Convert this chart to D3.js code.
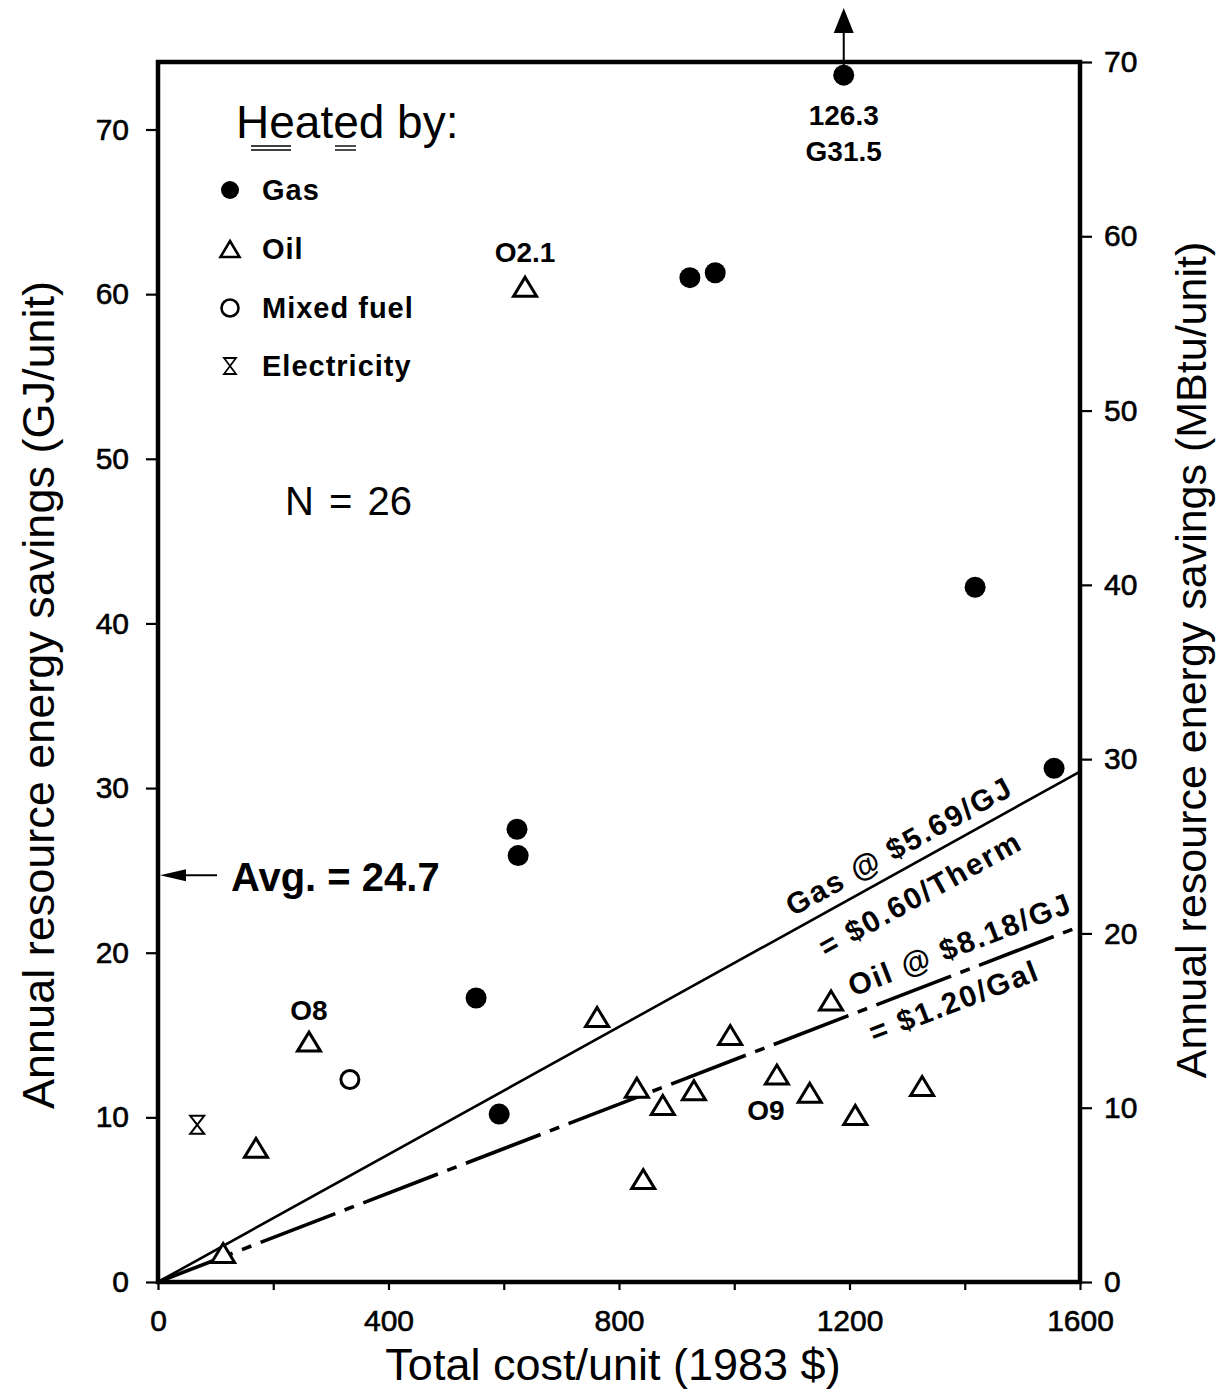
<!DOCTYPE html>
<html>
<head>
<meta charset="utf-8">
<script src="https://cdn.jsdelivr.net/npm/d3@7"></script>
<style>
  body { margin: 0; background: #fff; }
  svg { display: block; font-family: "Liberation Sans", Arial, Helvetica, sans-serif; }
</style>
</head>
<body>
<svg id="chart" width="1219" height="1392"></svg>
<script>
// cost in 1983 $ per unit, savings in GJ per unit
const gasCost = [1190, 923, 967, 1418, 1555, 623, 625, 552, 592];
const gasSavings = [73.3, 61.0, 61.3, 42.2, 31.2, 27.5, 25.9, 17.25, 10.2];
const oilCost = [637, 262, 170, 113, 762, 993, 1168, 831, 876, 930, 1074, 1131, 1210, 1326, 842];
const oilSavings = [60.45, 14.6, 8.15, 1.76, 16.1, 15.0, 17.1, 11.8, 10.75, 11.65, 12.6, 11.5, 10.15, 11.9, 6.25];
const mixedCost = [333];
const mixedSavings = [12.3];
const elecCost = [68];
const elecSavings = [9.55];

// the first gas point is off scale: true value and building id
const offScaleValue = "126.3";
const offScaleId = "G31.5";
const oilIds = { 0: "O2.1", 1: "O8", 10: "O9" };

// break-even lines through the origin, savings at $1600
const lineCost = [0, 1600];
const gasLineSavings = [0, 31.0];
const oilLineSavings = [0, 21.6];

const avgSavings = 24.7;
const nUnits = 26;

const xTicks = d3.range(0, 1601, 200);
const xTickLabels = [0, 400, 800, 1200, 1600];
const gjTicks = d3.range(0, 71, 10);
const mbtuTicks = d3.range(0, 71, 10);

const legendItems = ["Gas", "Oil", "Mixed fuel", "Electricity"];

const svg = d3.select("#chart");
svg.append("rect").attr("width", 1219).attr("height", 1392).attr("fill", "#fff");

const x = d3.scaleLinear().domain([0, 1600]).range([158, 1080]);
const y = d3.scaleLinear().domain([0, 74.1]).range([1282, 62]);
const yR = d3.scaleLinear().domain([0, 70]).range([1282, 62]);

const tri = "M0,-11L11.5,8L-11.5,8Z";
const hourglass = "M-7,-9H7L-7,9H7Z";

// axes
const styleAxis = g => {
  g.select(".domain").remove();
  g.selectAll("line").attr("stroke", "#000").attr("stroke-width", 2.2);
  g.selectAll("text").attr("fill", "#000").attr("font-size", 30)
    .attr("stroke", "#000").attr("stroke-width", 0.6)
    .attr("font-family", "Liberation Sans, Arial, sans-serif");
};

svg.append("g").attr("transform", `translate(${x(0)},0)`)
  .call(d3.axisLeft(y).tickValues(gjTicks).tickSize(12).tickPadding(17))
  .call(styleAxis);

svg.append("g").attr("transform", `translate(${x(1600)},0)`)
  .call(d3.axisRight(yR).tickValues(mbtuTicks).tickSize(12).tickPadding(12))
  .call(styleAxis);

svg.append("g").attr("transform", `translate(0,${y(0)})`)
  .call(d3.axisBottom(x).tickValues(xTicks).tickSize(8).tickPadding(20)
    .tickFormat(d => xTickLabels.includes(d) ? d : ""))
  .call(styleAxis);

// frame
svg.append("rect")
  .attr("x", x(0)).attr("y", y.range()[1])
  .attr("width", x(1600) - x(0)).attr("height", y(0) - y.range()[1])
  .attr("fill", "none").attr("stroke", "#000").attr("stroke-width", 4.5);

// axis titles
svg.append("text")
  .attr("x", (x(0) + x(1600)) / 2 - 6).attr("y", 1380)
  .attr("text-anchor", "middle").attr("font-size", 45)
  .text("Total cost/unit (1983 $)");

svg.append("text")
  .attr("transform", "translate(54,695) rotate(-90)")
  .attr("text-anchor", "middle").attr("font-size", 45)
  .text("Annual resource energy savings (GJ/unit)");

svg.append("text")
  .attr("transform", "translate(1206,660) rotate(-90)")
  .attr("text-anchor", "middle").attr("font-size", 43)
  .text("Annual resource energy savings (MBtu/unit)");

// break-even lines
const line = d3.line().x(d => x(d[0])).y(d => y(d[1]));
svg.append("path")
  .datum(d3.zip(lineCost, gasLineSavings))
  .attr("d", line).attr("fill", "none").attr("stroke", "#000").attr("stroke-width", 2.6);
svg.append("path")
  .datum(d3.zip(lineCost, oilLineSavings))
  .attr("d", line).attr("fill", "none").attr("stroke", "#000").attr("stroke-width", 3.6)
  .attr("stroke-dasharray", "80 10 10 10");

function lineLabel(ends, cost, txt, off) {
  const ang = Math.atan2(y(ends[1]) - y(0), x(1600) - x(0)) * 180 / Math.PI;
  const px = x(cost), py = y(ends[1] * cost / 1600);
  svg.append("text")
    .attr("transform", `translate(${px},${py}) rotate(${ang})`)
    .attr("y", off).attr("text-anchor", "middle")
    .attr("font-size", 30).attr("font-weight", "bold").attr("letter-spacing", 2)
    .text(txt);
}
lineLabel(gasLineSavings, 1305, "Gas @ $5.69/GJ", -12);
lineLabel(gasLineSavings, 1298, "= $0.60/Therm", 40);
lineLabel(oilLineSavings, 1408, "Oil @ $8.18/GJ", -16);
lineLabel(oilLineSavings, 1366, "= $1.20/Gal", 35);

// points
const gas = d3.zip(gasCost, gasSavings);
const oil = d3.zip(oilCost, oilSavings);
const mixed = d3.zip(mixedCost, mixedSavings);
const elec = d3.zip(elecCost, elecSavings);

svg.append("g").selectAll("path").data(oil).join("path")
  .attr("transform", d => `translate(${x(d[0])},${y(d[1]) + 1.5})`)
  .attr("d", tri).attr("fill", "#fff").attr("stroke", "#000").attr("stroke-width", 3);

svg.append("g").selectAll("circle").data(gas).join("circle")
  .attr("cx", d => x(d[0])).attr("cy", d => y(d[1])).attr("r", 10.5).attr("fill", "#000");

svg.append("g").selectAll("circle").data(mixed).join("circle")
  .attr("cx", d => x(d[0])).attr("cy", d => y(d[1])).attr("r", 9)
  .attr("fill", "#fff").attr("stroke", "#000").attr("stroke-width", 3);

svg.append("g").selectAll("path").data(elec).join("path")
  .attr("transform", d => `translate(${x(d[0])},${y(d[1])})`)
  .attr("d", hourglass).attr("fill", "none").attr("stroke", "#000").attr("stroke-width", 2);

// point labels
const labelFont = sel => sel.attr("font-size", 28).attr("font-weight", "bold").attr("text-anchor", "middle");
const tagOffset = { 0: [0, -25], 1: [0, -22], 10: [-11, 45] };
Object.keys(oilIds).forEach(i => {
  svg.append("text").call(labelFont)
    .attr("x", x(oilCost[i]) + tagOffset[i][0])
    .attr("y", y(oilSavings[i]) + tagOffset[i][1])
    .text(oilIds[i]);
});

const capX = x(gasCost[0]), capY = y(gasSavings[0]);
svg.append("text").call(labelFont).attr("x", capX).attr("y", capY + 50).text(offScaleValue);
svg.append("text").call(labelFont).attr("x", capX).attr("y", capY + 86).text(offScaleId);

// arrow showing the point is off scale
svg.append("line")
  .attr("x1", capX).attr("x2", capX).attr("y1", capY - 10).attr("y2", 30)
  .attr("stroke", "#000").attr("stroke-width", 2);
svg.append("path")
  .attr("d", `M${capX},8L${capX + 10},33L${capX - 10},33Z`).attr("fill", "#000");

// average arrow
const avgY = y(avgSavings);
svg.append("line")
  .attr("x1", x(0) + 20).attr("x2", 217).attr("y1", avgY).attr("y2", avgY)
  .attr("stroke", "#000").attr("stroke-width", 2);
svg.append("path")
  .attr("d", `M${x(0) + 2},${avgY}L${x(0) + 28},${avgY - 6}L${x(0) + 28},${avgY + 6}Z`)
  .attr("fill", "#000");
svg.append("text")
  .attr("x", 231).attr("y", avgY + 16)
  .attr("font-size", 40).attr("font-weight", "bold")
  .text(`Avg. = ${avgSavings}`);

svg.append("text")
  .attr("x", 285).attr("y", 515).attr("font-size", 40)
  .attr("word-spacing", 4)
  .text(`N = ${nUnits}`);

// legend
svg.append("text")
  .attr("x", 236).attr("y", 138).attr("font-size", 46)
  .text("Heated by:");
[[251, 291], [335, 356]].forEach(([a, b]) => {
  [146, 150].forEach(yy => svg.append("line")
    .attr("x1", a).attr("x2", b).attr("y1", yy).attr("y2", yy)
    .attr("stroke", "#000").attr("stroke-width", 1.4));
});

const legendY = [190, 249, 308, 366];
const lg = svg.append("g");
lg.append("circle").attr("cx", 230).attr("cy", legendY[0]).attr("r", 9).attr("fill", "#000");
lg.append("path").attr("transform", `translate(230,${legendY[1] + 1})`)
  .attr("d", "M0,-9L9.5,7L-9.5,7Z").attr("fill", "#fff").attr("stroke", "#000").attr("stroke-width", 2.6);
lg.append("circle").attr("cx", 230).attr("cy", legendY[2]).attr("r", 8.5)
  .attr("fill", "#fff").attr("stroke", "#000").attr("stroke-width", 2.6);
lg.append("path").attr("transform", `translate(230,${legendY[3]})`)
  .attr("d", "M-6,-8H6L-6,8H6Z").attr("fill", "none").attr("stroke", "#000").attr("stroke-width", 1.8);
lg.selectAll("text").data(legendItems).join("text")
  .attr("x", 262).attr("y", (d, i) => legendY[i] + 10)
  .attr("font-size", 29).attr("font-weight", "bold").attr("letter-spacing", 1)
  .text(d => d);
</script>
</body>
</html>
